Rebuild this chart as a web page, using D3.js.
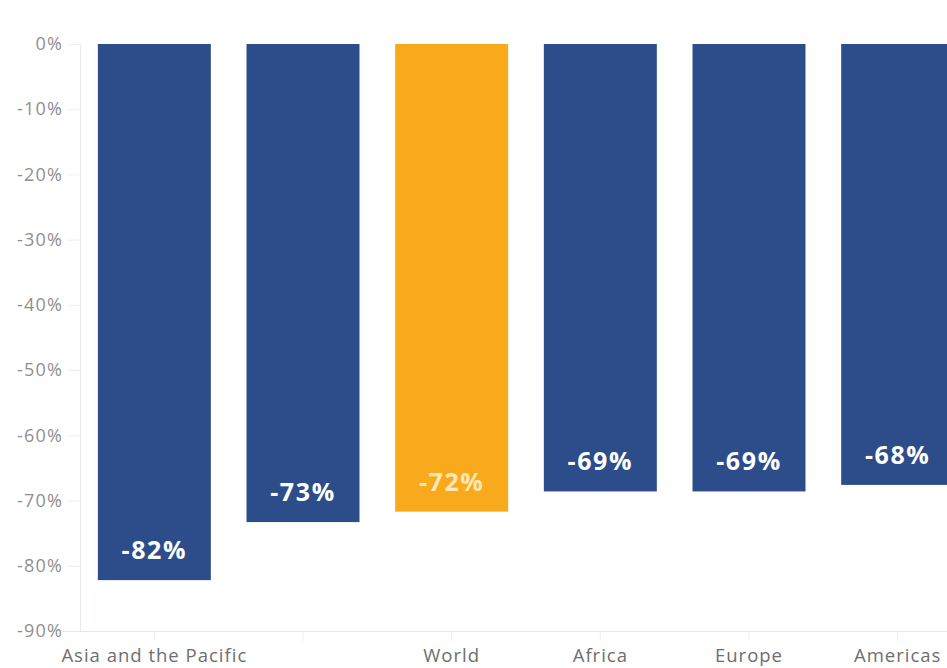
<!DOCTYPE html>
<html><head><meta charset="utf-8">
<script src="https://cdn.jsdelivr.net/npm/d3@7"></script>
<style>
html,body{margin:0;padding:0;background:#fff;overflow:hidden;}
svg{display:block;}
svg text{font-family:"Open Sans",Lato,sans-serif;}
</style></head>
<body><svg id="c" width="947" height="668"></svg>
<script>
const categories = ["Asia and the Pacific","Middle East","World","Africa","Europe","Americas"];
const values = [-82.2,-73.3,-71.7,-68.6,-68.6,-67.6];
const highlight = ["World"];
const hiddenLabels = ["Middle East"];
const yTicks = [0,-10,-20,-30,-40,-50,-60,-70,-80,-90];

const svg = d3.select("#c");
const x0 = 80, x1 = 972, yTop = 44, yBot = 631;
const x = d3.scaleBand().domain(categories).range([x0, x1]).paddingInner(0.24).paddingOuter(0.12);
const y = d3.scaleLinear().domain([0,-90]).range([yTop, yBot]);

// y axis
const ya = svg.append("g").attr("transform",`translate(${x0},0)`)
  .call(d3.axisLeft(y).tickValues(yTicks).tickSize(12).tickPadding(6).tickFormat(d=>d+"%"));
ya.attr("font-family",null);
ya.select(".domain").attr("stroke","#e6ebf2");
ya.selectAll(".tick line").attr("stroke","#eeeeee");
ya.selectAll(".tick text").attr("fill","#8f8f8f").style("font-size","18px")
  .style("letter-spacing","1.2px").attr("x",-17);

// x axis
const xa = svg.append("g").attr("transform",`translate(0,${yBot})`)
  .call(d3.axisBottom(x).tickSize(10).tickFormat(d=>hiddenLabels.includes(d)?"":d));
xa.attr("font-family",null);
xa.select(".domain").attr("stroke","#e6e6e6").attr("d",`M62,0.5H${x1}`);
xa.selectAll(".tick line").attr("stroke","#eeeeee");
xa.selectAll(".tick text").attr("fill","#6e6e6e").style("font-size","18.5px")
  .style("letter-spacing","1px").attr("y",31).attr("dy",null);

// bars
const data = categories.map((c,i)=>({c, v: values[i]}));
svg.append("g").selectAll("rect").data(data).join("rect")
  .attr("x", d=>x(d.c)).attr("width", x.bandwidth())
  .attr("y", y(0)).attr("height", d=>y(d.v)-y(0))
  .attr("fill", d=>highlight.includes(d.c) ? "#f9aa1c" : "#2c4d8a");

// labels
svg.append("g").selectAll("text").data(data).join("text")
  .attr("x", d=>x(d.c)+x.bandwidth()/2)
  .attr("y", d=>y(d.v)-21)
  .attr("text-anchor","middle")
  .attr("fill", d=>highlight.includes(d.c) ? "#fde7b8" : "#ffffff")
  .style("font-size","25px").style("font-weight","bold").style("letter-spacing","1.6px")
  .text(d=>Math.round(d.v)+"%");
</script></body></html>
